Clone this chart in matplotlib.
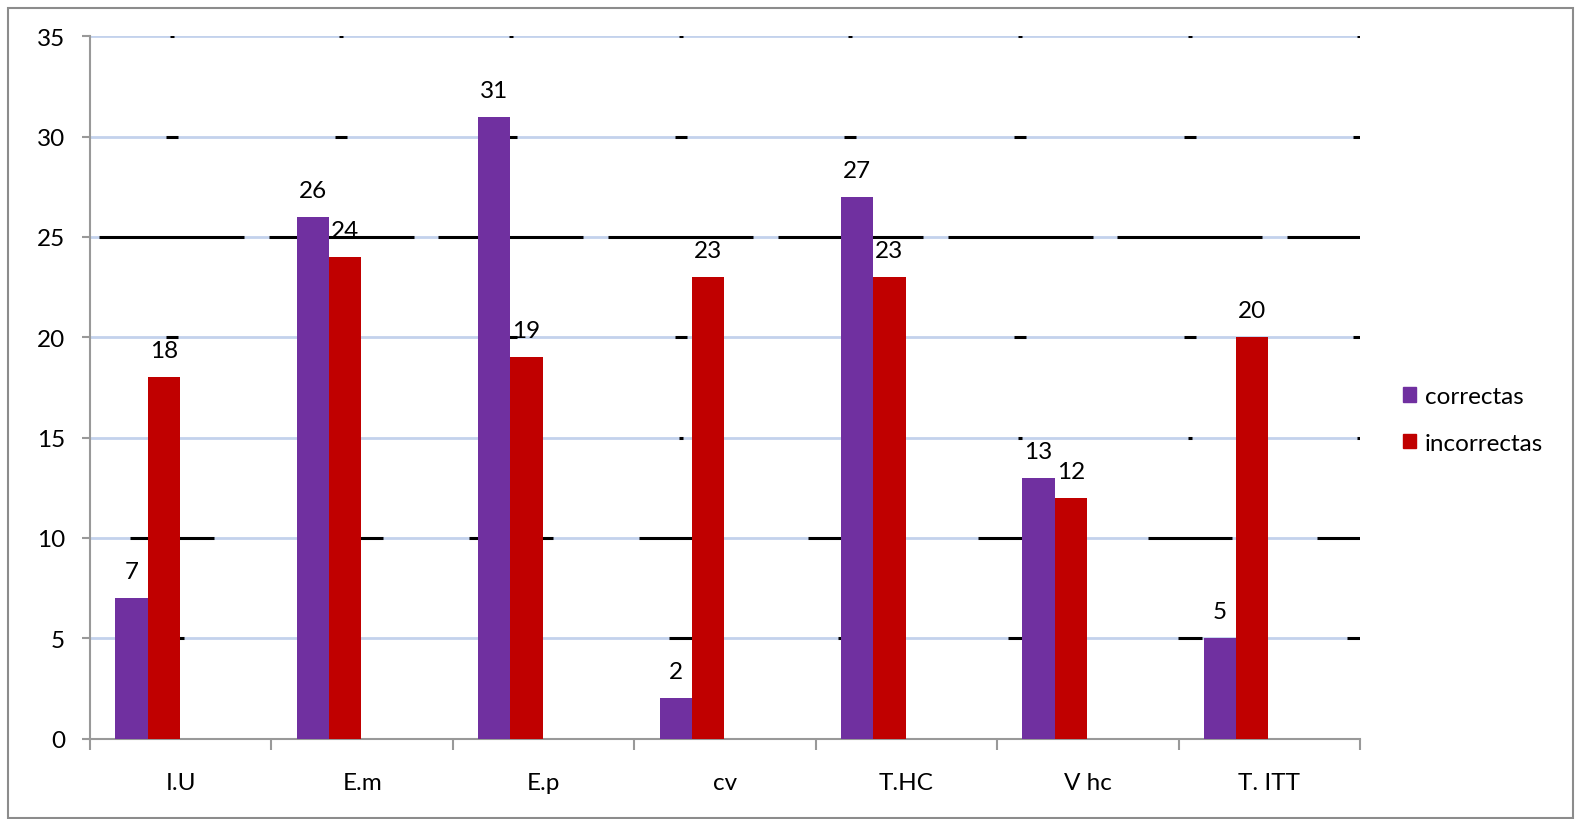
import numpy as np
import matplotlib
matplotlib.use("Agg")
import matplotlib.pyplot as plt
from matplotlib.patches import Patch, Rectangle

plt.rcParams['font.family'] = ['Lato', 'DejaVu Sans']

# data
categories = ['I.U', 'E.m', 'E.p', 'cv', 'T.HC', 'V hc', 'T. ITT']
correctas = [7, 26, 31, 2, 27, 13, 5]
incorrectas = [18, 24, 19, 23, 23, 12, 20]
series_names = ['correctas', 'incorrectas']
series_colors = ['#7030a0', '#c00000']

# black rendering streaks sitting on some gridlines (level -> length in px)
streaks = {35: 4, 30: 12, 25: 145, 20: 12, 15: 4, 10: 84, 5: 24}

FS = 17.5
W, H = 1582, 820
fig = plt.figure(figsize=(W / 100, H / 100), dpi=100)
ax = fig.add_axes([90 / W, 1 - 739.5 / H, (1360 - 90) / W, (739.5 - 37.3) / H])

x = np.arange(len(categories))
bw = 0.178
b1 = ax.bar(x - 0.272, correctas, bw, color=series_colors[0], zorder=3)
b2 = ax.bar(x - 0.094, incorrectas, bw, color=series_colors[1], zorder=3)

for bars, vals in ((b1, correctas), (b2, incorrectas)):
    for r, v in zip(bars, vals):
        ax.annotate(str(v), (r.get_x() + r.get_width() / 2, v), xytext=(0, 19),
                    textcoords='offset points', ha='center', va='center',
                    fontsize=FS, zorder=5)

ax.set_xlim(-0.5, len(categories) - 0.5)
ax.set_ylim(0, 35)
ax.set_yticks(range(0, 36, 5))
for y in range(5, 36, 5):
    ax.axhline(y, color='#c3d2ec', lw=2, zorder=1)

# streaks, laid out in axes-fraction x, data y
ax_px = 1360 - 90
period = 169.7 / ax_px
first = (171.5 - 90) / ax_px
for lvl, ln in streaks.items():
    half = ln / 2 / ax_px
    c = first
    while c - half < 1:
        ax.plot([max(c - half, 0), min(c + half, 1)], [lvl, lvl], color='black',
                lw=2.2, transform=ax.get_yaxis_transform(), zorder=2,
                solid_capstyle='butt')
        c += period

ax.set_xticks(np.arange(-0.5, len(categories), 1.0))
ax.set_xticklabels([])
ax.set_xticks(x, minor=True)
ax.set_xticklabels(categories, minor=True, fontsize=FS)
ax.tick_params(axis='x', which='major', length=8, width=1.5, color='#999999', direction='out')
ax.tick_params(axis='x', which='minor', length=0, pad=24)
ax.tick_params(axis='y', length=6, width=1.5, color='#999999', labelsize=FS, pad=12)

for s in ('top', 'right'):
    ax.spines[s].set_visible(False)
for s in ('left', 'bottom'):
    ax.spines[s].set_color('#999999')
    ax.spines[s].set_linewidth(1.5)

handles = [Patch(color=c) for c in series_colors]
fig.legend(handles, series_names, loc='center left',
           bbox_to_anchor=(1403 / W, 1 - 421 / H), frameon=False, fontsize=FS,
           handlelength=0.55, handleheight=0.55, handletextpad=0.35,
           labelspacing=1.05, borderpad=0, borderaxespad=0)

fig.patches.append(Rectangle((8 / W, 1 / H), (1573 - 8) / W, (818 - 8) / H,
                             transform=fig.transFigure, fill=False,
                             edgecolor='#8c8c8c', lw=1.5))

fig.savefig('out.png', dpi=100)
